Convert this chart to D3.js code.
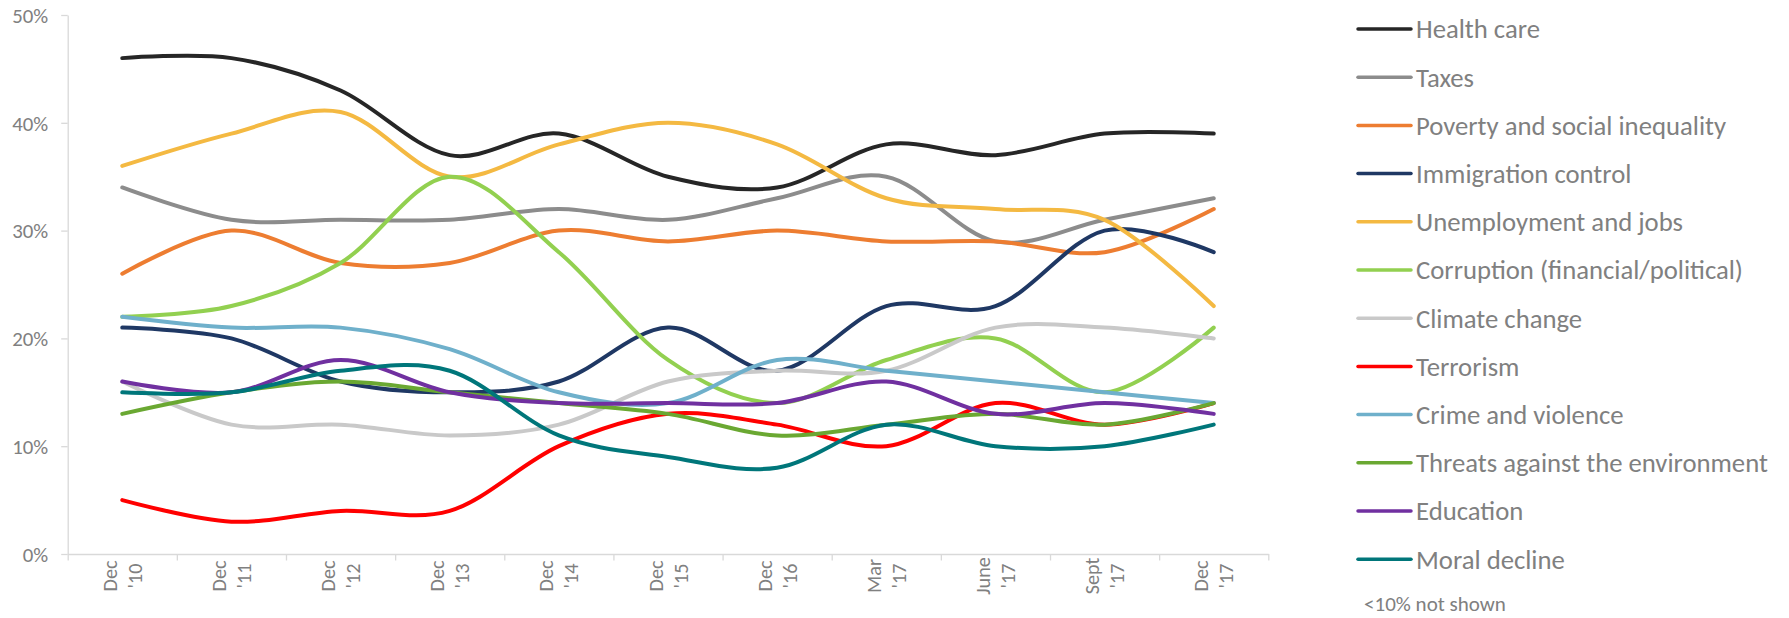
<!DOCTYPE html>
<html>
<head>
<meta charset="utf-8">
<script src="https://cdn.jsdelivr.net/npm/d3@7"></script>
<style>
  html, body { margin: 0; padding: 0; background: #fff; }
  svg { display: block; font-family: Carlito, Calibri, Lato, "Open Sans", sans-serif; }
</style>
</head>
<body>
<svg id="chart" width="1789" height="618"></svg>
<script>
// ---------- data ----------
const categories = ["Dec '10", "Dec '11", "Dec '12", "Dec '13", "Dec '14", "Dec '15", "Dec '16", "Mar '17", "June '17", "Sept '17", "Dec '17"];
const yTicks = [0, 0.1, 0.2, 0.3, 0.4, 0.5];

const healthCare    = [46, 46, 43, 37, 39, 35, 34, 38, 37, 39, 39];
const taxes         = [34, 31, 31, 31, 32, 31, 33, 35, 29, 31, 33];
const poverty       = [26, 30, 27, 27, 30, 29, 30, 29, 29, 28, 32];
const immigration   = [21, 20, 16, 15, 16, 21, 17, 23, 23, 30, 28];
const unemployment  = [36, 39, 41, 35, 38, 40, 38, 33, 32, 31, 23];
const corruption    = [22, 23, 27, 35, 28, 18, 14, 18, 20, 15, 21];
const climateChange = [16, 12, 12, 11, 12, 16, 17, 17, 21, 21, 20];
const terrorism     = [5, 3, 4, 4, 10, 13, 12, 10, 14, 12, 14];
const crime         = [22, 21, 21, 19, 15, 14, 18, 17, 16, 15, 14];
const threatsEnv    = [13, 15, 16, 15, 14, 13, 11, 12, 13, 12, 14];
const education     = [16, 15, 18, 15, 14, 14, 14, 16, 13, 14, 13];
const moralDecline  = [15, 15, 17, 17, 11, 9, 8, 12, 10, 10, 12];

const seriesNames = ["Health care", "Taxes", "Poverty and social inequality", "Immigration control",
  "Unemployment and jobs", "Corruption (financial/political)", "Climate change", "Terrorism",
  "Crime and violence", "Threats against the environment", "Education", "Moral decline"];
const seriesValues = [healthCare, taxes, poverty, immigration, unemployment, corruption,
  climateChange, terrorism, crime, threatsEnv, education, moralDecline];
const seriesColors = ["#262626", "#8C8C8C", "#ED7D31", "#1F3864", "#F4B942", "#92D050",
  "#C9C9C9", "#FF0000", "#6FB0CB", "#6AA832", "#7030A0", "#00767A"];
const footnote = "<10% not shown";

// ---------- layout ----------
const svg = d3.select("#chart");
const plotLeft = 67.7, plotRight = 1268.3, plotTop = 15, plotBottom = 554;
const textColor = "#808080";
const axisColor = "#D9D9D9";

// scale a group of texts so that a reference text reaches a target width
function fitFont(sel, refNode, target, start) {
  sel.attr("font-size", start);
  const w = refNode.getComputedTextLength();
  if (w > 0) sel.attr("font-size", start * target / w);
}

const x = d3.scaleBand().domain(categories).range([plotLeft, plotRight]);
const xEdge = d3.scaleLinear().domain([0, categories.length]).range([plotLeft, plotRight]);
const y = d3.scaleLinear().domain([0, 0.5]).range([plotBottom, plotTop]);

// y axis
const yAxis = svg.append("g").attr("transform", `translate(${plotLeft},0)`)
  .call(d3.axisLeft(y).tickValues(yTicks).tickFormat(d3.format(".0%")).tickSize(6.5).tickSizeOuter(0).tickPadding(13));
yAxis.attr("font-family", null).attr("font-size", null);
yAxis.selectAll("path, line").attr("stroke", axisColor).attr("stroke-width", 1.3);
const yLabels = yAxis.selectAll("text").attr("fill", textColor).attr("dy", "0.35em");
fitFont(yLabels, yLabels.filter(d => d === 0.5).node(), 36, 20);

// x axis (ticks at band edges)
const xAxis = svg.append("g").attr("transform", `translate(0,${plotBottom})`)
  .call(d3.axisBottom(xEdge).tickValues(d3.range(categories.length + 1)).tickFormat("").tickSize(6.5).tickSizeOuter(0));
xAxis.selectAll("path, line").attr("stroke", axisColor).attr("stroke-width", 1.3);

// x labels (rotated, two lines)
const labelG = svg.append("g");
categories.forEach(c => {
  const parts = c.split(" ");
  const cx = x(c) + x.bandwidth() / 2;
  const t = labelG.append("text")
    .attr("class", "xlab")
    .attr("transform", `translate(${cx},576) rotate(-90)`)
    .attr("text-anchor", "middle")
    .attr("fill", textColor);
  t.append("tspan").attr("x", 0).attr("y", -12.5).attr("dy", "0.35em").text(parts[0]);
  t.append("tspan").attr("x", 0).attr("y", 12.5).attr("dy", "0.35em").text(parts[1]);
});
const xLabels = labelG.selectAll("text.xlab");
fitFont(xLabels, xLabels.node().firstChild, 31, 20);

// lines
const line = d3.line()
  .x((d, i) => x(categories[i]) + x.bandwidth() / 2)
  .y(d => y(d / 100))
  .curve(d3.curveCardinal.tension(0));

svg.append("g").selectAll("path")
  .data(seriesValues)
  .join("path")
  .attr("d", line)
  .attr("fill", "none")
  .attr("stroke", (d, i) => seriesColors[i])
  .attr("stroke-width", 4)
  .attr("stroke-linecap", "round")
  .attr("stroke-linejoin", "round");

// legend
const legend = svg.append("g");
const legX0 = 1358, legX1 = 1411, legTextX = 1416, legY0 = 29, legStep = 48.2;
seriesNames.forEach((name, i) => {
  const yy = legY0 + i * legStep;
  legend.append("line")
    .attr("x1", legX0).attr("x2", legX1).attr("y1", yy).attr("y2", yy)
    .attr("stroke", seriesColors[i]).attr("stroke-width", 3.5).attr("stroke-linecap", "round");
  legend.append("text")
    .attr("class", "legtext")
    .attr("x", legTextX).attr("y", yy).attr("dy", "0.35em")
    .attr("fill", textColor)
    .text(name);
});
const legTexts = legend.selectAll("text.legtext");
fitFont(legTexts, legTexts.nodes()[9], 352, 26);

const foot = svg.append("text")
  .attr("x", 1364).attr("y", 611)
  .attr("fill", textColor)
  .text(footnote);
fitFont(foot, foot.node(), 142, 20);
</script>
</body>
</html>
